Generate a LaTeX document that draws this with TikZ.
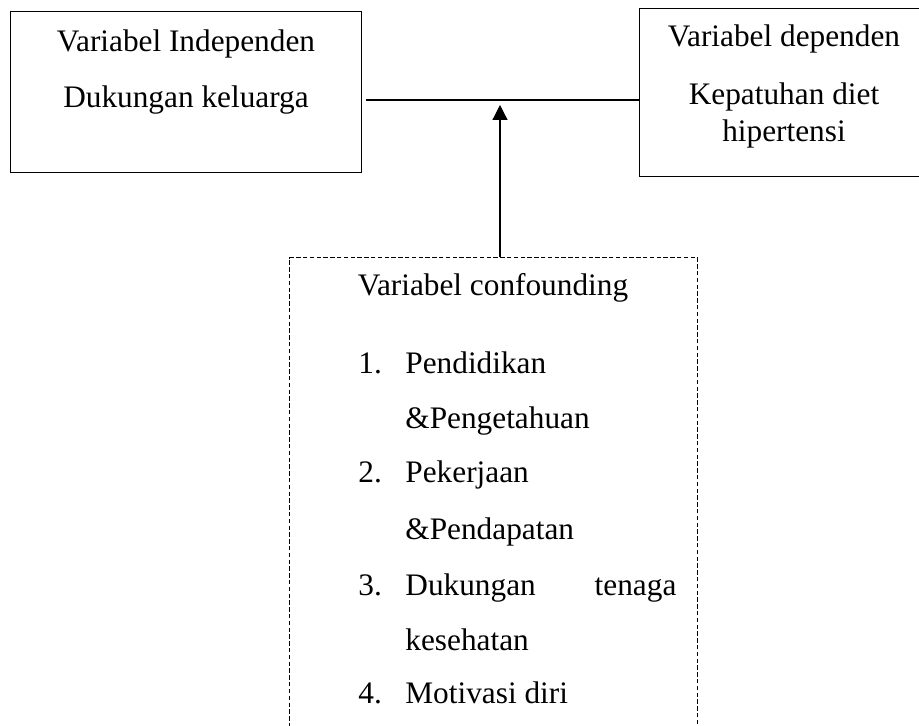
\documentclass[tikz,border=0pt]{standalone}
\usepackage{fontspec}
\setmainfont{Liberation Serif}
\usetikzlibrary{arrows.meta}

\tikzset{
    varbox/.style={draw=black, line width=0.6pt, inner sep=0pt, anchor=north west},
    confbox/.style={varbox, line width=0.7pt, dash pattern=on 2.2pt off 1.2pt},
    txt/.style={inner sep=0pt, anchor=base, font=\fontsize{15.65}{18}\selectfont},
    txtl/.style={txt, anchor=base west}
}

\begin{document}
\begin{tikzpicture}[x=0.5pt, y=-0.5pt]
    \clip (0,0) rectangle (919,726);
    % boxes
    \node[varbox, minimum width=175.5pt, minimum height=80.5pt] at (10,11) (indep) {};
    \node[varbox, minimum width=145pt, minimum height=84pt] at (639,8) (dep) {};
    \node[confbox, minimum width=204pt, minimum height=240pt] at (289,257) (conf) {};
    % texts
    \node[txt] at (186,52) (indepA) {Variabel Independen};
    \node[txt] at (186,108) (indepB) {Dukungan keluarga};
    \node[txt] at (784,47) (depA) {Variabel dependen};
    \node[txt] at (784,105) (depB) {Kepatuhan diet};
    \node[txt] at (784,142) (depC) {hipertensi};
    \node[txt] at (493,296) (confA) {Variabel confounding};
    \node[txtl] at (358,373) (n1) {1.};
    \node[txtl] at (405,373) (i1a) {Pendidikan};
    \node[txtl] at (405,428) (i1b) {\&Pengetahuan};
    \node[txtl] at (358,482) (n2) {2.};
    \node[txtl] at (405,482) (i2a) {Pekerjaan};
    \node[txtl] at (405,539) (i2b) {\&Pendapatan};
    \node[txtl] at (358,595) (n3) {3.};
    \node[txtl] at (405,595) (i3a) {\makebox[135.5pt][s]{Dukungan\hfill tenaga}};
    \node[txtl] at (405,650) (i3b) {kesehatan};
    \node[txtl] at (358,703) (n4) {4.};
    \node[txtl] at (405,703) (i4a) {Motivasi diri};
    % connectors
    \coordinate (lineL) at (366,100);
    \coordinate (foot) at (500,257);
    \coordinate (tip) at (500,105);
    \draw[line width=0.6pt] (lineL) -- (dep.west |- lineL);
    \draw[line width=0.6pt, -{Triangle[length=7.5pt, width=7.5pt]}] (foot) -- (tip);
\end{tikzpicture}
\end{document}
